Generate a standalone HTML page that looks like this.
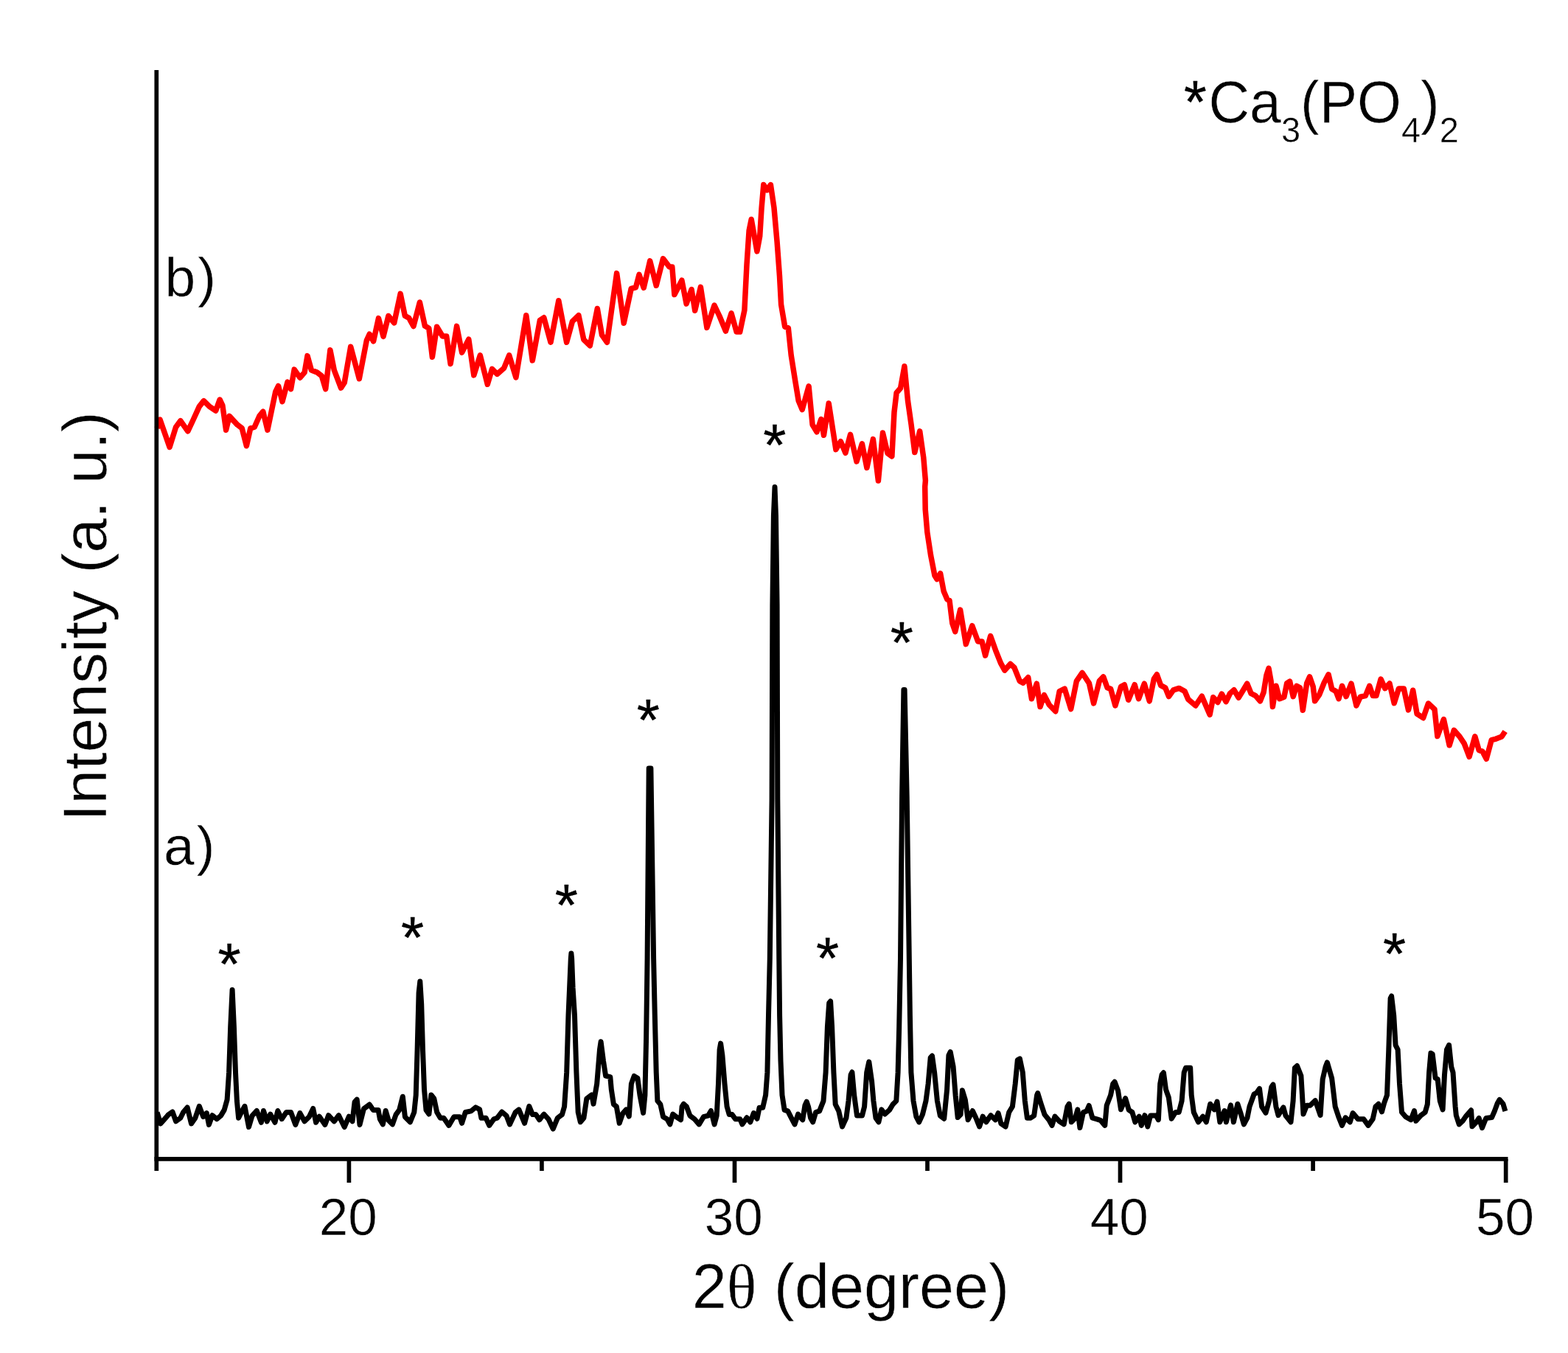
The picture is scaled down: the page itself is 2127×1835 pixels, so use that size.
<!DOCTYPE html>
<html lang="en">
<head>
<meta charset="utf-8">
<title>XRD patterns</title>
<style>
html,body{margin:0;padding:0;background:#fff;}
body{width:2127px;height:1835px;overflow:hidden;}
svg{display:block;}
text{font-family:"Liberation Sans",Arial,Helvetica,sans-serif;fill:#000;stroke:#fff;stroke-width:0.5px;paint-order:fill stroke;}
.th{font-family:"Liberation Serif","DejaVu Serif",serif;}
.st{stroke:#000;stroke-width:0.4px;}
</style>
</head>
<body>
<svg width="2127" height="1835" viewBox="0 0 2127 1835">
<rect x="0" y="0" width="2127" height="1835" fill="#ffffff"/>
<text x="472.2" y="1674.7" font-size="71" text-anchor="middle">20</text>
<text x="995.2" y="1674.7" font-size="71" text-anchor="middle">30</text>
<text x="1518.3" y="1674.7" font-size="71" text-anchor="middle">40</text>
<text x="2041.5" y="1674.7" font-size="71" text-anchor="middle">50</text>
<text x="1154" y="1774.3" font-size="84.5" text-anchor="middle">2<tspan class="th">θ</tspan> (degree)</text>
<text transform="translate(143.7,836.0) rotate(-90)" font-size="84" text-anchor="middle">Intensity (a. u.)</text>
<text x="223.4" y="402" font-size="75">b<tspan dx="3">)</tspan></text>
<text x="221.9" y="1172.5" font-size="75">a<tspan dx="3">)</tspan></text>
<text transform="translate(1639.5,166.4) scale(1,1.04)" font-size="77"><tspan class="st" font-size="79" x="-33.5" y="-0.1">*</tspan><tspan x="0" y="0">Ca</tspan><tspan font-size="47" dy="26">3</tspan><tspan dy="-26">(PO</tspan><tspan font-size="47" dy="26">4</tspan><tspan dy="-26">)</tspan><tspan font-size="47" dy="26">2</tspan></text>
<text class="st" x="311.0" y="1334.8" font-size="80" text-anchor="middle">*</text>
<text class="st" x="559.6" y="1299.3" font-size="80" text-anchor="middle">*</text>
<text class="st" x="768.4" y="1255.0" font-size="80" text-anchor="middle">*</text>
<text class="st" x="879.3" y="1003.7" font-size="80" text-anchor="middle">*</text>
<text class="st" x="1050.9" y="631.3" font-size="80" text-anchor="middle">*</text>
<text class="st" x="1122.5" y="1327.4" font-size="80" text-anchor="middle">*</text>
<text class="st" x="1223.4" y="899.0" font-size="80" text-anchor="middle">*</text>
<text class="st" x="1891.5" y="1321.2" font-size="80" text-anchor="middle">*</text>
<polyline fill="none" stroke="#ff0000" stroke-width="7.5" stroke-linejoin="round" stroke-linecap="butt" points="213.1,580.8 217.0,569.1 230.1,606.4 238.6,579.2 244.8,570.6 254.8,584.8 261.8,570.0 270.3,551.4 276.4,543.6 284.2,551.4 292.7,557.0 298.1,542.0 301.9,549.9 306.6,583.2 311.2,564.4 322.0,576.1 328.2,580.8 334.4,604.8 339.8,580.8 345.2,579.2 352.1,563.8 356.8,558.2 362.9,583.2 373.7,531.4 377.6,523.5 383.0,544.6 390.0,518.1 394.6,527.6 399.2,501.1 406.9,512.2 413.1,505.1 417.0,482.6 422.4,502.0 430.1,505.1 436.3,509.7 441.7,527.6 447.9,474.8 453.3,502.0 462.5,526.1 467.2,519.0 475.7,470.2 487.3,513.7 497.3,461.9 501.2,453.2 506.6,462.8 513.5,431.6 520.0,456.4 526.9,428.5 534.7,437.9 543.2,398.4 549.3,428.2 554.7,431.3 560.9,442.5 569.4,410.0 576.4,442.1 581.8,445.2 586.4,484.2 592.6,443.2 600.3,456.0 605.7,456.0 611.1,493.5 619.6,442.4 626.6,478.1 635.8,460.2 642.8,508.9 651.3,481.8 661.3,521.3 667.5,500.3 674.4,507.4 683.7,499.2 690.7,481.8 699.9,512.0 713.8,427.7 722.3,488.9 732.4,434.4 737.8,430.8 747.0,464.2 757.8,407.7 768.6,464.2 776.4,435.9 784.9,427.7 791.8,460.6 800.3,468.8 810.3,418.5 816.5,454.4 823.5,464.2 836.6,370.6 846.2,438.2 856.2,391.4 862.4,389.9 867.0,372.4 873.2,390.3 881.7,353.9 890.2,387.3 899.5,350.8 908.0,362.1 911.8,362.1 914.9,399.6 924.9,380.2 931.1,412.0 938.1,392.5 942.7,421.2 950.4,389.4 958.9,444.4 969.0,414.1 975.9,428.5 984.4,449.0 992.1,424.9 999.1,450.1 1003.7,450.1 1009.9,420.8 1013.0,359.0 1016.1,312.7 1019.2,297.5 1023.0,318.8 1026.9,340.9 1030.7,320.4 1033.1,281.8 1035.8,250.6 1040.5,257.8 1045.4,250.6 1050.0,281.8 1054.1,328.1 1057.5,374.4 1059.6,413.1 1064.7,443.2 1069.3,444.7 1073.2,481.8 1078.6,515.8 1083.2,543.6 1088.2,555.6 1097.1,523.8 1102.1,576.0 1108.0,585.7 1113.8,568.6 1117.5,590.3 1124.2,547.0 1133.9,609.6 1140.4,598.7 1146.9,614.3 1153.5,589.4 1162.0,625.9 1169.4,601.8 1175.9,634.4 1184.4,595.6 1191.4,652.1 1197.5,587.1 1204.0,614.6 1209.9,618.9 1213.0,559.0 1216.1,532.7 1221.5,526.6 1226.9,496.8 1231.5,543.6 1236.1,576.0 1240.8,613.5 1247.7,584.8 1252.8,620.8 1255.4,651.7 1254.7,660.0 1255.2,690.9 1257.8,721.8 1262.5,752.7 1267.9,780.5 1271.0,785.6 1275.6,777.7 1280.2,802.1 1284.9,812.9 1288.0,814.4 1291.8,845.3 1295.7,856.6 1302.6,827.1 1310.3,873.6 1318.8,848.7 1326.6,870.0 1332.0,870.0 1336.6,889.0 1343.6,862.6 1351.3,883.9 1357.5,899.4 1362.9,909.1 1370.6,900.5 1376.0,905.6 1383.2,923.6 1387.8,926.1 1394.7,918.7 1399.4,947.7 1406.3,927.2 1411.0,958.5 1416.4,942.6 1423.3,956.0 1431.8,964.7 1437.2,937.5 1444.2,934.1 1452.7,961.6 1460.4,923.6 1468.1,912.5 1477.4,926.6 1483.6,953.9 1491.3,923.6 1496.7,917.9 1502.1,932.8 1506.7,934.4 1512.9,957.0 1520.6,931.3 1525.3,928.7 1530.7,949.3 1539.2,928.7 1544.6,947.7 1552.3,927.2 1559.2,950.8 1565.4,920.5 1569.3,914.8 1574.7,929.7 1580.8,932.8 1585.5,944.6 1591.7,935.9 1599.4,933.4 1607.1,937.5 1611.7,948.3 1621.8,957.0 1630.3,944.2 1641.1,969.3 1645.7,945.7 1651.9,952.4 1657.3,941.1 1663.1,951.6 1668.5,940.5 1673.9,935.7 1680.1,946.2 1685.5,937.5 1691.7,927.2 1697.1,940.5 1703.2,943.6 1709.4,950.8 1714.1,939.0 1717.9,915.8 1721.0,906.3 1724.1,923.6 1726.4,958.5 1731.0,930.3 1735.7,947.7 1741.9,945.2 1745.7,926.6 1749.6,924.1 1754.2,944.6 1758.8,930.3 1763.5,932.8 1767.3,963.2 1772.7,926.6 1776.6,917.9 1781.2,931.3 1783.6,950.8 1789.7,942.1 1795.9,926.6 1802.1,914.8 1806.7,934.4 1812.1,937.5 1816.0,947.7 1820.6,930.3 1826.0,944.6 1833.0,927.2 1839.9,957.0 1845.3,945.2 1852.3,943.6 1857.7,930.3 1862.3,943.6 1866.9,943.6 1873.1,921.0 1878.8,933.6 1885.0,927.0 1891.2,953.7 1897.3,934.1 1904.3,934.1 1910.5,962.9 1916.7,936.2 1922.1,968.1 1930.6,973.7 1937.5,954.0 1946.0,961.9 1949.9,998.5 1958.4,975.6 1966.1,1010.8 1972.3,990.3 1980.0,999.0 1986.2,1008.3 1993.1,1026.3 2000.8,998.8 2006.2,1017.5 2010.9,1019.1 2016.3,1029.3 2023.2,1003.6 2029.4,1002.1 2037.1,999.0 2041.7,992.0"/>
<polyline fill="none" stroke="#000000" stroke-width="7.0" stroke-linejoin="round" stroke-linecap="butt" points="213.1,1508.5 217.8,1523.9 224.7,1516.2 228.6,1511.6 234.0,1508.0 238.6,1520.8 244.8,1516.2 248.6,1508.5 254.1,1501.9 259.5,1523.9 264.9,1516.2 270.3,1500.3 275.7,1514.6 280.3,1509.6 283.4,1525.4 288.0,1512.7 294.2,1517.7 299.6,1513.1 304.2,1505.4 308.1,1491.5 310.6,1454.4 312.7,1392.7 315.1,1342.5 317.4,1392.7 319.5,1454.4 321.4,1493.1 323.6,1516.2 328.2,1506.9 332.0,1500.3 337.5,1528.5 342.1,1513.1 348.3,1506.5 354.4,1522.3 357.5,1506.5 362.2,1520.8 366.8,1511.1 373.0,1522.3 376.8,1506.5 382.2,1517.7 388.4,1508.5 394.6,1508.5 400.8,1525.4 406.9,1509.6 413.1,1520.8 419.3,1514.7 424.7,1503.4 428.6,1522.3 433.2,1514.2 440.9,1525.4 445.6,1512.7 453.3,1520.8 459.5,1512.7 467.2,1528.5 473.4,1514.2 478.0,1520.8 481.1,1494.6 484.2,1491.1 488.0,1525.4 493.4,1503.9 501.2,1498.0 506.2,1505.4 513.1,1505.4 515.4,1517.8 519.3,1524.9 523.2,1506.5 527.0,1519.3 532.4,1524.9 537.1,1511.6 541.7,1505.4 546.3,1487.2 549.4,1514.7 556.4,1521.8 561.8,1508.5 564.2,1485.3 566.1,1423.6 568.1,1346.3 569.8,1330.9 571.7,1361.8 573.5,1423.6 575.5,1477.6 578.0,1505.4 581.9,1511.0 584.9,1484.9 588.8,1490.0 592.7,1508.5 597.3,1516.2 601.9,1516.2 608.9,1526.4 615.8,1514.7 623.6,1514.7 626.6,1523.3 631.3,1508.5 639.0,1506.9 645.2,1501.9 650.6,1504.6 652.9,1516.2 659.1,1516.2 663.7,1526.4 669.9,1517.8 674.5,1516.2 680.7,1508.0 686.9,1513.1 691.5,1524.9 699.2,1508.5 703.9,1504.9 711.6,1523.3 717.8,1500.3 722.4,1511.6 727.0,1511.6 731.7,1518.7 737.8,1511.1 744.0,1517.8 750.2,1531.1 756.4,1516.2 762.5,1511.6 765.6,1500.8 768.7,1454.4 771.0,1377.2 772.6,1340.0 774.3,1300.0 774.9,1293.1 775.6,1300.0 777.1,1340.0 779.5,1377.2 781.9,1454.4 784.2,1508.5 787.3,1521.8 791.9,1516.2 795.8,1490.0 802.7,1484.9 805.0,1497.1 809.7,1469.9 813.5,1423.6 815.1,1412.7 818.5,1439.0 821.6,1459.1 827.8,1460.6 829.3,1477.6 832.4,1497.7 836.3,1500.8 840.2,1523.3 844.8,1510.0 849.4,1504.9 853.3,1514.1 856.4,1469.9 860.2,1459.4 864.9,1462.2 868.0,1485.3 872.6,1509.4 874.9,1485.3 876.6,1408.1 878.1,1300.0 880.2,1042.1 882.9,1042.1 886.6,1300.0 888.3,1377.2 890.2,1454.4 891.9,1493.1 895.8,1497.7 899.6,1514.7 905.0,1517.8 908.9,1524.9 912.7,1511.1 917.4,1514.7 923.6,1518.7 925.1,1500.8 927.4,1497.2 931.3,1500.8 935.9,1513.1 942.1,1517.8 948.3,1524.9 954.4,1514.7 960.6,1513.1 964.5,1506.5 969.1,1524.9 972.2,1513.1 974.5,1469.9 976.1,1423.6 977.6,1415.1 979.9,1431.3 983.0,1469.9 986.1,1500.8 989.2,1511.6 993.1,1511.6 997.7,1517.8 1003.9,1517.8 1006.9,1524.9 1013.1,1515.8 1017.8,1521.8 1022.4,1509.6 1027.0,1517.2 1030.1,1502.3 1034.7,1502.3 1038.6,1485.3 1040.9,1454.4 1042.5,1377.2 1044.3,1300.0 1047.1,1083.8 1047.9,821.2 1049.4,700.0 1051.0,660.6 1052.5,700.0 1054.1,821.2 1054.8,1083.8 1056.8,1300.0 1057.6,1377.2 1059.0,1439.0 1061.0,1485.3 1064.1,1505.4 1068.7,1506.9 1073.4,1516.2 1078.0,1524.9 1082.6,1511.1 1088.8,1518.7 1091.9,1499.2 1094.2,1494.1 1096.5,1500.8 1099.6,1516.2 1102.7,1521.8 1106.6,1508.5 1111.6,1506.9 1117.0,1493.1 1120.1,1454.4 1122.4,1392.7 1124.7,1360.2 1126.6,1357.9 1128.6,1392.7 1130.9,1454.4 1133.2,1497.7 1137.8,1506.9 1142.5,1528.0 1147.9,1516.2 1151.0,1493.1 1154.1,1457.5 1155.9,1454.0 1158.7,1485.3 1162.5,1513.1 1169.5,1513.1 1172.6,1500.8 1175.7,1454.4 1178.8,1440.1 1182.6,1466.8 1184.9,1493.1 1188.0,1516.2 1191.9,1521.8 1195.8,1504.9 1200.4,1511.0 1206.6,1505.4 1211.2,1497.7 1215.8,1493.1 1218.1,1454.4 1219.7,1392.7 1221.5,1300.0 1223.6,1080.1 1225.9,935.5 1227.1,935.5 1230.2,1080.1 1233.3,1300.0 1234.4,1377.2 1235.9,1454.4 1239.0,1493.1 1242.9,1514.7 1246.7,1521.8 1251.4,1511.6 1256.0,1493.1 1259.1,1469.9 1262.2,1434.4 1264.5,1432.0 1267.6,1454.4 1271.4,1493.1 1275.3,1513.1 1280.7,1517.2 1284.6,1477.6 1286.9,1431.3 1289.2,1426.6 1293.1,1446.7 1296.1,1485.3 1299.2,1515.6 1303.1,1511.6 1305.4,1478.7 1309.3,1491.5 1313.1,1518.7 1319.3,1506.5 1323.9,1516.2 1328.6,1528.0 1333.2,1514.2 1337.8,1521.8 1344.0,1512.7 1350.2,1518.7 1354.1,1509.6 1357.9,1523.9 1364.1,1528.0 1368.7,1508.5 1373.4,1500.8 1377.2,1469.9 1380.3,1437.5 1383.4,1435.9 1387.3,1454.4 1390.3,1493.1 1393.4,1516.2 1398.1,1516.2 1402.7,1513.1 1406.6,1485.3 1407.7,1482.6 1412.4,1497.7 1417.0,1511.6 1423.2,1519.3 1427.0,1526.4 1430.9,1514.2 1437.1,1520.8 1443.2,1524.9 1447.9,1500.8 1450.2,1497.2 1453.3,1521.8 1458.7,1516.2 1461.8,1504.9 1464.9,1529.5 1469.5,1508.5 1474.1,1506.9 1477.2,1499.5 1481.9,1516.2 1488.0,1517.8 1492.7,1519.3 1498.8,1526.4 1501.2,1499.2 1506.6,1485.3 1509.7,1469.9 1512.0,1467.1 1516.6,1479.2 1520.5,1504.8 1526.6,1489.5 1531.3,1505.4 1535.9,1508.5 1539.8,1521.8 1545.2,1514.2 1548.3,1526.4 1552.9,1512.7 1556.8,1528.0 1560.6,1513.1 1568.3,1513.1 1571.4,1518.7 1573.7,1469.9 1576.1,1457.5 1578.4,1454.8 1581.5,1477.6 1585.3,1488.4 1589.2,1517.2 1594.6,1508.5 1599.2,1508.5 1603.1,1493.1 1606.2,1454.4 1608.5,1448.3 1614.7,1448.3 1616.2,1485.3 1619.3,1508.5 1625.5,1521.8 1631.7,1514.2 1636.3,1521.8 1641.7,1497.2 1647.1,1504.8 1651.0,1494.1 1654.8,1521.8 1661.0,1506.5 1663.3,1521.8 1669.5,1498.8 1673.4,1521.8 1678.8,1497.2 1682.6,1508.5 1687.3,1524.9 1691.9,1516.2 1695.0,1500.8 1701.2,1483.8 1704.6,1482.2 1708.5,1476.4 1711.6,1500.8 1717.0,1509.4 1721.6,1493.1 1724.7,1474.5 1727.0,1471.0 1730.9,1500.8 1734.0,1512.5 1740.9,1501.9 1744.0,1513.1 1751.0,1521.8 1754.1,1493.1 1756.4,1448.3 1759.5,1445.5 1764.9,1459.1 1768.0,1511.0 1772.6,1499.2 1777.2,1499.2 1784.2,1492.6 1791.1,1512.5 1794.2,1463.7 1798.1,1446.7 1800.4,1440.9 1806.6,1462.2 1811.2,1500.8 1815.8,1514.7 1820.5,1526.4 1825.1,1515.8 1831.3,1521.8 1835.1,1509.6 1842.1,1517.8 1849.8,1517.8 1856.0,1526.4 1862.2,1517.8 1866.0,1500.8 1869.9,1497.2 1874.5,1507.9 1877.6,1496.1 1881.5,1485.3 1883.8,1423.6 1886.1,1354.1 1887.6,1351.0 1890.7,1377.2 1893.1,1417.4 1896.1,1423.6 1898.5,1469.9 1901.5,1508.5 1906.9,1514.7 1913.9,1518.7 1918.5,1506.5 1920.8,1520.3 1927.0,1513.1 1933.2,1508.5 1936.3,1497.7 1938.6,1454.4 1940.9,1428.2 1943.2,1429.7 1947.1,1462.2 1950.2,1463.7 1953.3,1493.1 1957.1,1504.8 1959.5,1457.5 1962.5,1423.6 1965.6,1417.4 1968.7,1446.7 1971.0,1454.4 1974.1,1500.8 1975.3,1512.7 1979.2,1524.8 1984.0,1520.4 1988.8,1513.6 1995.6,1505.8 1997.0,1527.7 2002.3,1522.3 2006.2,1516.5 2010.5,1529.6 2015.8,1516.5 2023.6,1515.6 2027.4,1506.9 2031.3,1496.3 2034.2,1491.4 2039.0,1497.2 2041.9,1506.9"/>
<g stroke="#000" stroke-width="5.7" fill="none" stroke-linecap="butt">
<line x1="212.3" y1="95" x2="212.3" y2="1588"/>
<line x1="209.45000000000002" y1="1571.9" x2="2045.5" y2="1571.9"/>
<line x1="473.4" y1="1571.9" x2="473.4" y2="1604"/>
<line x1="734.9" y1="1571.9" x2="734.9" y2="1588"/>
<line x1="996.5" y1="1571.9" x2="996.5" y2="1604"/>
<line x1="1258.0" y1="1571.9" x2="1258.0" y2="1588"/>
<line x1="1519.5" y1="1571.9" x2="1519.5" y2="1604"/>
<line x1="1781.1" y1="1571.9" x2="1781.1" y2="1588"/>
<line x1="2042.7" y1="1571.9" x2="2042.7" y2="1604"/>
</g>
</svg>
</body>
</html>
